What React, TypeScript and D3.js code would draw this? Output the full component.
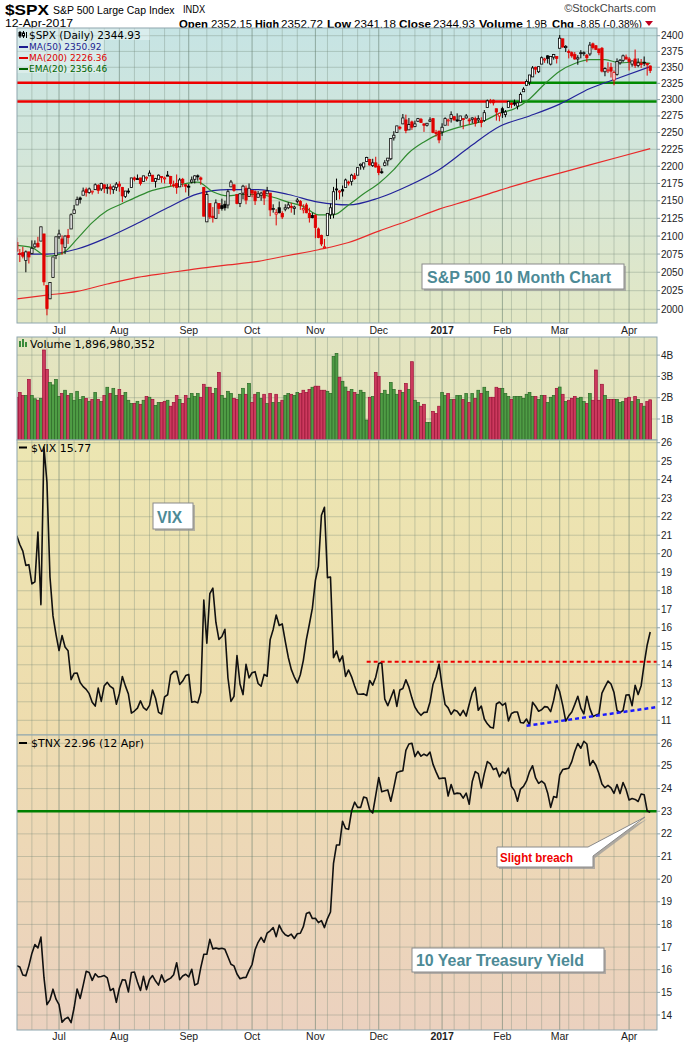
import React from 'react';
import * as d3 from 'd3';

// ---------------- DATA ----------------
const HOLIDAYS = ['2016-07-04', '2016-09-05', '2016-11-24', '2016-12-26', '2017-01-02', '2017-01-16', '2017-02-20'];
const START = '2016-06-13';
const END = '2017-04-12';
const monthLabels = ['Jul', 'Aug', 'Sep', 'Oct', 'Nov', 'Dec', '2017', 'Feb', 'Mar', 'Apr'];

// S&P 500 daily [open, high, low, close]
const ohlc: number[][] = [
  // Jun 2016
  [2091, 2098, 2078, 2079], [2076, 2082, 2064, 2075], [2077, 2085, 2069, 2072], [2066, 2080, 2050, 2078], [2078, 2078, 2062, 2071],
  [2076, 2094, 2075, 2083], [2085, 2094, 2083, 2089], [2090, 2099, 2084, 2085], [2093, 2113, 2093, 2113], [2103, 2103, 2032, 2037],
  [2032, 2032, 1992, 2001], [2014, 2036, 2014, 2036], [2043, 2071, 2043, 2071], [2073, 2099, 2068, 2099],
  // Jul
  [2099, 2109, 2096, 2103], [2096, 2101, 2074, 2089], [2084, 2101, 2075, 2100], [2101, 2110, 2089, 2098], [2110, 2132, 2110, 2130],
  [2132, 2144, 2132, 2137], [2144, 2156, 2144, 2152], [2154, 2156, 2146, 2152], [2158, 2169, 2158, 2164], [2166, 2169, 2156, 2162],
  [2162, 2169, 2160, 2167], [2163, 2164, 2159, 2164], [2166, 2175, 2166, 2173], [2172, 2174, 2160, 2165], [2167, 2176, 2164, 2175],
  [2173, 2173, 2161, 2168], [2168, 2174, 2160, 2169], [2170, 2174, 2159, 2167], [2166, 2172, 2160, 2170], [2169, 2177, 2164, 2174],
  // Aug
  [2174, 2178, 2163, 2171], [2169, 2170, 2148, 2157], [2156, 2164, 2154, 2164], [2164, 2168, 2160, 2164], [2169, 2183, 2169, 2183],
  [2183, 2185, 2178, 2181], [2182, 2188, 2181, 2182], [2183, 2183, 2172, 2175], [2178, 2186, 2178, 2186], [2183, 2185, 2179, 2184],
  [2186, 2194, 2186, 2190], [2187, 2187, 2178, 2178], [2178, 2183, 2169, 2182], [2181, 2188, 2181, 2187], [2185, 2185, 2176, 2184],
  [2182, 2185, 2175, 2183], [2187, 2193, 2186, 2187], [2185, 2186, 2171, 2175], [2173, 2179, 2169, 2172], [2175, 2188, 2160, 2169],
  [2170, 2183, 2170, 2180], [2181, 2183, 2170, 2176], [2173, 2174, 2162, 2171],
  // Sep
  [2171, 2174, 2157, 2171], [2177, 2185, 2175, 2180], [2181, 2187, 2175, 2186], [2186, 2188, 2179, 2186], [2183, 2185, 2173, 2181],
  [2169, 2170, 2128, 2128], [2120, 2163, 2120, 2159], [2146, 2146, 2124, 2127], [2128, 2141, 2119, 2126], [2125, 2152, 2124, 2147],
  [2146, 2146, 2131, 2139], [2143, 2153, 2136, 2139], [2145, 2150, 2136, 2140], [2144, 2166, 2139, 2163], [2170, 2180, 2170, 2177],
  [2173, 2173, 2163, 2165], [2159, 2159, 2145, 2146], [2146, 2161, 2141, 2160], [2161, 2173, 2152, 2171], [2168, 2172, 2145, 2151],
  [2156, 2175, 2156, 2168],
  // Oct
  [2165, 2165, 2155, 2161], [2163, 2165, 2144, 2150], [2155, 2164, 2155, 2160], [2158, 2163, 2150, 2161], [2164, 2165, 2144, 2154],
  [2160, 2170, 2160, 2164], [2161, 2161, 2128, 2137], [2138, 2145, 2133, 2139], [2131, 2138, 2115, 2133], [2140, 2149, 2132, 2133],
  [2132, 2135, 2124, 2127], [2138, 2145, 2135, 2140], [2140, 2148, 2138, 2144], [2142, 2147, 2133, 2141], [2139, 2143, 2130, 2141],
  [2149, 2154, 2146, 2151], [2149, 2151, 2137, 2143], [2137, 2145, 2132, 2139], [2144, 2147, 2132, 2133], [2132, 2140, 2119, 2126],
  [2129, 2133, 2125, 2126],
  // Nov
  [2129, 2131, 2097, 2112], [2110, 2112, 2097, 2098], [2101, 2102, 2086, 2089], [2084, 2096, 2083, 2085], [2101, 2132, 2101, 2132],
  [2130, 2146, 2124, 2140], [2131, 2170, 2125, 2163], [2167, 2182, 2151, 2167], [2163, 2165, 2152, 2164], [2166, 2172, 2156, 2164],
  [2169, 2182, 2169, 2180], [2177, 2179, 2172, 2177], [2178, 2189, 2172, 2187], [2186, 2190, 2180, 2182], [2187, 2198, 2187, 2198],
  [2201, 2204, 2195, 2203], [2199, 2205, 2195, 2205], [2207, 2214, 2207, 2213], [2210, 2211, 2201, 2202], [2201, 2211, 2199, 2205],
  [2205, 2214, 2198, 2199],
  // Dec
  [2200, 2203, 2187, 2191], [2192, 2197, 2189, 2192], [2201, 2209, 2200, 2205], [2208, 2212, 2201, 2212], [2211, 2241, 2209, 2241],
  [2242, 2252, 2238, 2246], [2250, 2260, 2250, 2260], [2258, 2260, 2254, 2257], [2263, 2278, 2263, 2272], [2269, 2277, 2249, 2253],
  [2254, 2272, 2254, 2262], [2266, 2268, 2254, 2258], [2259, 2268, 2258, 2263], [2267, 2272, 2266, 2271], [2270, 2272, 2265, 2265],
  [2263, 2264, 2251, 2261], [2261, 2264, 2259, 2264], [2267, 2273, 2266, 2269], [2271, 2272, 2249, 2250], [2250, 2254, 2244, 2249],
  [2252, 2253, 2234, 2239],
  // Jan 2017
  [2251, 2264, 2245, 2258], [2261, 2273, 2261, 2271], [2268, 2271, 2260, 2269], [2271, 2282, 2265, 2277], [2274, 2275, 2268, 2269],
  [2269, 2279, 2266, 2269], [2268, 2275, 2260, 2275], [2271, 2271, 2255, 2270], [2272, 2278, 2271, 2275], [2269, 2272, 2262, 2268],
  [2270, 2273, 2264, 2272], [2271, 2274, 2259, 2264], [2269, 2276, 2265, 2271], [2268, 2273, 2258, 2265], [2268, 2284, 2266, 2280],
  [2288, 2300, 2288, 2298], [2298, 2301, 2294, 2297], [2299, 2300, 2291, 2295], [2286, 2286, 2268, 2281], [2275, 2280, 2267, 2279],
  // Feb
  [2286, 2289, 2272, 2280], [2277, 2284, 2273, 2281], [2288, 2298, 2288, 2297], [2294, 2296, 2287, 2293], [2295, 2300, 2290, 2293],
  [2290, 2296, 2285, 2295], [2296, 2311, 2296, 2308], [2312, 2319, 2312, 2316], [2322, 2331, 2321, 2328], [2327, 2338, 2322, 2338],
  [2335, 2352, 2335, 2349], [2350, 2351, 2339, 2347], [2343, 2351, 2341, 2351], [2355, 2367, 2355, 2365], [2362, 2365, 2357, 2363],
  [2368, 2369, 2356, 2364], [2355, 2367, 2353, 2367], [2366, 2371, 2362, 2370], [2367, 2367, 2356, 2364],
  // Mar
  [2380, 2401, 2380, 2396], [2395, 2395, 2381, 2382], [2381, 2385, 2374, 2383], [2375, 2378, 2364, 2375], [2373, 2375, 2365, 2368],
  [2370, 2374, 2362, 2363], [2363, 2369, 2354, 2365], [2372, 2377, 2364, 2373], [2372, 2375, 2368, 2373], [2369, 2371, 2358, 2365],
  [2371, 2390, 2368, 2385], [2387, 2389, 2378, 2381], [2384, 2385, 2377, 2378], [2379, 2379, 2369, 2373], [2380, 2382, 2342, 2344],
  [2343, 2350, 2336, 2348], [2345, 2358, 2341, 2346], [2350, 2357, 2334, 2344], [2330, 2345, 2322, 2342], [2339, 2364, 2337, 2359],
  [2357, 2363, 2354, 2361], [2361, 2370, 2358, 2368], [2366, 2370, 2362, 2363],
  // Apr
  [2363, 2366, 2345, 2359], [2355, 2360, 2351, 2360], [2363, 2378, 2349, 2353], [2353, 2364, 2350, 2357], [2356, 2363, 2349, 2356],
  [2358, 2367, 2352, 2357], [2356, 2356, 2337, 2354], [2352, 2353, 2341, 2345],
];
const prevClose = 2096;

// moving averages [bar index, value]
const ma50: number[][] = [
  [0, 2075], [10, 2075], [20, 2082], [30, 2098], [40, 2118], [50, 2140], [60, 2160], [70, 2166], [80, 2166], [90, 2159],
  [100, 2148], [110, 2144], [120, 2154], [130, 2172], [140, 2195], [150, 2228], [160, 2259], [170, 2275], [180, 2293],
  [190, 2317], [200, 2334], [210, 2351],
];
const ma200: number[][] = [
  [0, 2014], [10, 2019], [20, 2024], [30, 2034], [40, 2043], [50, 2049], [60, 2055], [70, 2060], [80, 2065], [90, 2073],
  [100, 2081], [110, 2091], [120, 2107], [130, 2122], [140, 2138], [150, 2151], [160, 2165], [170, 2178], [180, 2190],
  [190, 2202], [200, 2214], [210, 2226],
];
const ema20: number[][] = [
  [0, 2087], [5, 2084], [10, 2072], [15, 2076], [20, 2096], [25, 2119], [30, 2136], [35, 2146], [40, 2156], [45, 2165],
  [50, 2170], [55, 2174], [60, 2177], [65, 2163], [70, 2157], [75, 2159], [80, 2159], [85, 2155], [90, 2148], [95, 2142],
  [100, 2130], [105, 2130], [110, 2144], [115, 2160], [120, 2175], [125, 2195], [130, 2220], [135, 2236], [140, 2248],
  [145, 2256], [150, 2262], [155, 2268], [160, 2279], [165, 2286], [170, 2301], [175, 2324], [180, 2344], [185, 2356],
  [190, 2362], [195, 2362], [200, 2357], [205, 2358], [210, 2356],
];

// price levels (value, bar index where the line turns from red to green)
const levels: number[][] = [[2326, 169], [2297, 163]];

// volume (billions)
const volume: number[] = [
  2.02, 2.25, 2.11, 2.11, 2.86, 2.11, 1.95, 1.88, 1.97, 4.24,
  3.33, 2.72, 2.60, 2.86, 2.06, 2.20, 2.35, 2.11, 2.20, 1.88,
  2.30, 1.92, 2.06, 1.97, 1.83, 1.92, 2.25, 1.92, 1.83, 2.11,
  2.49, 2.20, 2.44, 2.11, 2.39, 2.11, 2.25, 1.88, 1.73, 1.73,
  1.83, 1.69, 1.88, 2.06, 2.02, 1.92, 1.64, 1.78, 1.78, 1.83,
  1.88, 1.60, 1.78, 2.11, 1.92, 1.73, 2.11, 1.97, 2.20, 2.06,
  2.20, 2.02, 2.63, 2.49, 2.49, 2.20, 2.44, 3.19, 2.11, 1.97,
  2.30, 2.20, 1.97, 1.92, 2.16, 2.44, 2.16, 2.67, 1.78, 2.16,
  2.25, 1.97, 2.16, 1.73, 2.20, 1.78, 2.16, 1.78, 1.88, 2.11,
  2.20, 2.16, 2.11, 2.25, 2.20, 2.35, 2.25, 2.39, 2.49, 2.54,
  2.54, 2.35, 2.35, 2.30, 2.20, 3.94, 4.08, 2.96, 2.77, 2.50,
  2.30, 2.39, 2.25, 2.16, 2.35, 2.25, 0.95, 2.02, 2.06, 3.19,
  2.99, 2.20, 2.35, 2.16, 2.72, 2.39, 2.16, 2.35, 2.25, 2.67,
  2.39, 3.69, 1.88, 1.78, 1.60, 1.69, 0.84, 0.84, 1.36, 1.26,
  1.60, 2.25, 2.11, 2.20, 1.92, 1.92, 2.11, 2.11, 1.92, 2.20,
  1.78, 2.20, 1.97, 2.35, 2.20, 2.49, 2.30, 2.02, 2.02, 2.49,
  2.44, 2.44, 2.20, 2.06, 1.92, 2.06, 2.06, 2.06, 1.97, 2.16,
  2.25, 2.06, 2.06, 1.92, 2.11, 2.11, 1.78, 2.02, 2.11, 2.44,
  2.50, 2.16, 1.82, 1.88, 1.97, 2.06, 1.97, 2.02, 1.82, 1.73,
  2.20, 1.88, 3.30, 1.88, 2.63, 2.11, 1.92, 1.92, 1.92, 1.92,
  1.78, 1.82, 1.97, 2.02, 1.82, 2.06, 1.92, 1.73, 1.60, 1.82,
  1.90,
];

const vix: number[] = [
  20.97, 20.50, 20.14, 19.37, 19.41, 18.37, 18.48, 21.17, 17.25, 25.76, 23.85, 18.75, 16.64, 15.63,
  14.77, 15.58, 14.96, 14.76, 13.20, 13.54, 13.55, 13.04, 12.82, 12.67, 12.44, 11.97, 11.77, 12.74, 12.02, 12.87, 13.05, 12.83, 12.72, 11.87,
  12.44, 13.37, 12.86, 12.42, 11.39, 11.50, 11.66, 12.05, 11.68, 11.55, 11.81, 12.64, 12.19, 11.43, 11.34, 12.27, 12.38, 13.45, 13.63, 13.65, 12.94, 13.12, 13.42,
  13.48, 11.98, 12.02, 11.94, 12.51, 17.50, 15.16, 17.85, 18.14, 16.30, 15.37, 15.53, 15.92, 13.30, 12.02, 12.29, 14.50, 12.96, 12.39, 14.02, 13.29,
  13.57, 13.63, 12.99, 12.84, 13.48, 13.38, 15.36, 15.91, 16.69, 16.12, 16.21, 15.28, 14.41, 13.75, 13.34, 13.02, 13.46, 14.24, 15.36, 16.19, 17.06,
  18.56, 19.32, 22.08, 22.51, 18.71, 18.74, 14.38, 14.74, 14.17, 14.48, 13.37, 13.72, 13.35, 12.85, 12.42, 12.41, 12.43, 12.34, 13.15, 12.90, 13.33,
  14.07, 14.12, 12.14, 11.79, 12.22, 12.64, 11.75, 12.64, 12.72, 13.19, 12.79, 12.20, 11.71, 11.45, 11.27, 11.43, 11.44, 11.99, 12.95, 13.37, 14.04,
  12.85, 11.85, 11.67, 11.32, 11.56, 11.49, 11.26, 11.54, 11.23, 11.87, 12.48, 12.78, 11.54, 11.77, 11.07, 10.81, 10.63, 10.58, 11.88, 11.99,
  11.81, 11.93, 10.97, 11.37, 11.45, 11.45, 10.88, 10.85, 11.07, 10.74, 11.97, 11.76, 11.49, 11.57, 11.74, 11.71, 11.47, 12.09, 12.92,
  12.54, 11.81, 10.96, 11.24, 11.45, 11.86, 12.30, 11.66, 11.35, 12.30, 11.63, 11.21, 11.28, 11.34, 12.47, 12.81, 13.12, 12.96, 12.50, 11.53, 11.42, 11.54, 12.37,
  12.38, 11.79, 12.89, 12.39, 12.87, 14.05, 15.07, 15.77,
];
// VIX trend lines [bar index, value]
const vixResistance: number[][] = [[116, 14.17], [212.5, 14.17]];
const vixSupport: number[][] = [[169, 10.7], [212.5, 11.72]];

const tnx: number[] = [
  16.17, 16.12, 15.77, 15.73, 16.17, 16.72, 17.11, 16.96, 17.44, 15.67, 14.46, 14.67, 15.14, 14.70,
  14.46, 13.68, 13.83, 13.90, 13.66, 14.32, 15.15, 14.73, 15.31, 15.93, 15.88, 15.53, 15.82, 15.68, 15.70, 15.74, 15.64, 15.08, 15.17, 14.56,
  15.18, 15.56, 15.54, 15.02, 15.88, 15.90, 15.46, 15.08, 15.71, 15.12, 15.57, 15.74, 15.50, 15.32, 15.77, 15.45, 15.56, 15.63, 15.78, 16.31, 15.56, 15.72, 15.80,
  15.68, 16.02, 15.32, 15.39, 16.09, 16.68, 16.68, 17.34, 16.92, 16.96, 16.92, 16.95, 16.90, 16.57, 16.24, 16.17, 15.81, 15.60, 15.65, 15.66, 15.97,
  16.23, 16.88, 17.21, 17.43, 17.21, 17.62, 17.72, 17.86, 17.46, 17.97, 17.70, 17.54, 17.48, 17.57, 17.38, 17.59, 17.61, 17.90, 18.48, 18.54, 18.26,
  18.27, 18.08, 18.17, 17.86, 18.26, 18.55, 20.70, 21.51, 21.51, 22.56, 22.24, 22.20, 23.01, 23.40, 23.17, 23.17, 23.63, 23.58, 23.06, 22.92, 23.70,
  24.49, 23.86, 23.90, 23.94, 23.44, 24.04, 24.70, 24.76, 24.79, 25.69, 25.97, 26.00, 25.41, 25.64, 25.43, 25.52, 25.45, 25.61, 25.07, 24.74, 24.44,
  24.46, 24.47, 23.67, 24.18, 23.76, 23.80, 23.78, 23.58, 23.80, 23.31, 24.31, 24.75, 24.66, 24.03, 24.66, 25.19, 25.09, 24.84, 24.90, 24.52,
  24.75, 24.66, 24.90, 24.09, 23.91, 23.44, 23.98, 24.10, 24.34, 24.75, 25.01, 24.47, 24.23, 24.33, 24.22, 23.81, 23.17, 23.65, 23.61,
  24.60, 24.84, 24.87, 24.90, 25.19, 25.65, 25.99, 25.78, 26.09, 25.97, 25.02, 25.24, 25.03, 24.67, 24.20, 24.04, 24.14, 24.03, 23.79, 24.18, 23.78, 24.27, 23.96,
  23.50, 23.56, 23.52, 23.43, 23.76, 23.73, 23.01, 22.96,
];
const tnxSupport = 23;

const spxTicks = d3.range(2000, 2401, 25);
const volTicks = [1, 2, 3, 4];
const vixTicks = d3.range(11, 27);
const tnxTicks = d3.range(14, 27);

// ---------------- LAYOUT ----------------
const L = 17, R = 657;
const P1 = { top: 28, bottom: 323 };
const PV = { top: 337, bottom: 440 };
const PX = { top: 440, bottom: 735 };
const PT = { top: 735, bottom: 1030 };

const SANS = "'Liberation Sans', Arial, sans-serif";
const NARROW = "'Liberation Sans Narrow', 'Liberation Sans', Arial, sans-serif";
const VER = "'DejaVu Sans', Verdana, sans-serif";

function buildDates(): Date[] {
  const out: Date[] = [];
  const hol = new Set(HOLIDAYS);
  const s = Date.parse(START + 'T00:00:00Z');
  const e = Date.parse(END + 'T00:00:00Z');
  for (let t = s; t <= e; t += 86400000) {
    const d = new Date(t);
    const dow = d.getUTCDay();
    if (dow === 0 || dow === 6) continue;
    if (hol.has(d.toISOString().slice(0, 10))) continue;
    out.push(d);
  }
  return out;
}

export default function App() {
  const dates = buildDates();
  const x = d3.scaleLinear().domain([0, 210]).range([16.8, 650.2]);
  const yS = d3.scaleLog().domain([2400, 2000]).range([35.7, 309.3]);
  const yV = d3.scaleLinear().domain([0, 4]).range([440.3, 355.1]);
  const yX = d3.scaleLinear().domain([26, 11]).range([442.7, 720.3]);
  const yT = d3.scaleLinear().domain([26, 14]).range([743.3, 1015]);

  // month / week grid indices
  const monthIdx: number[] = [];
  const weekIdx: number[] = [];
  const DAY = 86400000;
  for (let i = 1; i < dates.length; i++) {
    if (dates[i].getUTCMonth() !== dates[i - 1].getUTCMonth()) monthIdx.push(i);
  }
  const wk = (d: Date) => Math.floor((d.getTime() / DAY + 3) / 7);
  for (let i = 1; i < dates.length; i++) {
    if (wk(dates[i]) !== wk(dates[i - 1])) {
      if (monthIdx.some((m) => Math.abs(m - i) <= 2)) continue;
      weekIdx.push(i);
    }
  }

  const closes = ohlc.map((r) => r[3]);
  const up = closes.map((c, i) => c >= (i === 0 ? prevClose : closes[i - 1]));

  const minorC = 'rgba(110,130,115,0.33)';
  const majorC = 'rgba(95,120,105,0.55)';

  const vGrid = (top: number, bottom: number, key: string) => (
    <g key={key}>
      {weekIdx.map((i) => (
        <line key={'w' + i} x1={x(i)} x2={x(i)} y1={top} y2={bottom} stroke={minorC} strokeWidth={1} />
      ))}
      {monthIdx.map((i) => (
        <line key={'m' + i} x1={x(i)} x2={x(i)} y1={top} y2={bottom} stroke={majorC} strokeWidth={1} />
      ))}
    </g>
  );
  const hGrid = (ticks: number[], y: (v: number) => number, key: string) => (
    <g key={key}>
      {ticks.map((t) => (
        <line key={t} x1={L} x2={R} y1={y(t)} y2={y(t)} stroke={minorC} strokeWidth={1} />
      ))}
    </g>
  );
  const rAxis = (ticks: number[], y: (v: number) => number, fmt: (v: number) => string, key: string) => (
    <g key={key} fontFamily={SANS} fontSize={10} fill="#222">
      {ticks.map((t) => (
        <g key={t}>
          <line x1={R} x2={R + 3} y1={y(t)} y2={y(t)} stroke="#8aa0a8" />
          <text x={R + 4} y={y(t)} dy="0.35em">{fmt(t)}</text>
        </g>
      ))}
    </g>
  );

  const lineGen = (y: (v: number) => number) =>
    d3.line<number>().x((_, i) => x(i)).y((v) => y(v));
  const ptsLine = (y: (v: number) => number) =>
    d3.line<number[]>().x((p) => x(p[0])).y((p) => y(p[1])).curve(d3.curveMonotoneX);

  const border = '#8ea6ae';
  const bodyW = 2.3;

  const box = (x0: number, y0: number, w: number, h: number) => (
    <g>
      <rect x={x0 + 2} y={y0 + 2} width={w} height={h} fill="#9a9a9a" opacity={0.7} />
      <rect x={x0} y={y0} width={w} height={h} fill="#fff" stroke="#8a8a8a" strokeWidth={1} />
    </g>
  );

  const teal = '#4d8a96';

  return (
    <svg width={700} height={1045} style={{ position: 'absolute', left: 0, top: 0, background: '#fff' }}>
      <defs>
        <linearGradient id="g1" x1="0" y1="0" x2="0" y2="1">
          <stop offset="0" stopColor="#c6e4e4" />
          <stop offset="0.5" stopColor="#d5e6d8" />
          <stop offset="1" stopColor="#e2e7c4" />
        </linearGradient>
        <linearGradient id="gv" x1="0" y1="0" x2="0" y2="1">
          <stop offset="0" stopColor="#e2e4c2" />
          <stop offset="1" stopColor="#e7e5b8" />
        </linearGradient>
        <linearGradient id="gx" x1="0" y1="0" x2="0" y2="1">
          <stop offset="0" stopColor="#ece6b2" />
          <stop offset="1" stopColor="#eedcae" />
        </linearGradient>
        <linearGradient id="gt" x1="0" y1="0" x2="0" y2="1">
          <stop offset="0" stopColor="#eedcb1" />
          <stop offset="1" stopColor="#ebd1bf" />
        </linearGradient>
        <clipPath id="c1"><rect x={L} y={P1.top} width={R - L} height={P1.bottom - P1.top} /></clipPath>
        <clipPath id="cv"><rect x={L} y={PV.top} width={R - L} height={PV.bottom - PV.top} /></clipPath>
        <clipPath id="cx"><rect x={L} y={PX.top} width={R - L} height={PX.bottom - PX.top} /></clipPath>
        <clipPath id="ct"><rect x={L} y={PT.top} width={R - L} height={PT.bottom - PT.top} /></clipPath>
      </defs>

      {/* ---------- header ---------- */}
      <text x={5} y={15} fontFamily={SANS} fontWeight="bold" fontSize={15} textLength={44} lengthAdjust="spacingAndGlyphs">$SPX</text>
      <g transform="translate(53,13.5) scale(0.85,1)">
        <text x={0} y={0} fontFamily={SANS} fontSize={11.5} textLength={143} lengthAdjust="spacingAndGlyphs">S&amp;P 500 Large Cap Index</text>
      </g>
      <g transform="translate(183,12.5) scale(0.85,1)">
        <text x={0} y={0} fontFamily={SANS} fontSize={10} textLength={26} lengthAdjust="spacingAndGlyphs">INDX</text>
      </g>
      <text x={656} y={12} fontFamily={NARROW} fontSize={11} fill="#444" textAnchor="end">©StockCharts.com</text>
      <text x={5} y={27} fontFamily={NARROW} fontSize={11} textLength={68} lengthAdjust="spacingAndGlyphs">12-Apr-2017</text>
      <g fontFamily={NARROW} fontSize={11}>
        <text x={179} y={27.5} fontWeight="bold" textLength={29} lengthAdjust="spacingAndGlyphs">Open</text>
        <text x={211} y={27.5} textLength={41} lengthAdjust="spacingAndGlyphs">2352.15</text>
        <text x={255} y={27.5} fontWeight="bold" textLength={24} lengthAdjust="spacingAndGlyphs">High</text>
        <text x={281} y={27.5} textLength={42} lengthAdjust="spacingAndGlyphs">2352.72</text>
        <text x={327} y={27.5} fontWeight="bold" textLength={24} lengthAdjust="spacingAndGlyphs">Low</text>
        <text x={354} y={27.5} textLength={42} lengthAdjust="spacingAndGlyphs">2341.18</text>
        <text x={399} y={27.5} fontWeight="bold" textLength={32} lengthAdjust="spacingAndGlyphs">Close</text>
        <text x={433} y={27.5} textLength={42} lengthAdjust="spacingAndGlyphs">2344.93</text>
        <text x={479} y={27.5} fontWeight="bold" textLength={44} lengthAdjust="spacingAndGlyphs">Volume</text>
        <text x={526} y={27.5} fontSize={10} textLength={21} lengthAdjust="spacingAndGlyphs">1.9B</text>
        <text x={552} y={27.5} fontWeight="bold" textLength={22} lengthAdjust="spacingAndGlyphs">Chg</text>
        <text x={577} y={27.5} textLength={65} lengthAdjust="spacingAndGlyphs">-8.85 (-0.38%)</text>
      </g>
      <path d="M645,21 L653,21 L649,26 Z" fill="#c00020" />

      {/* ---------- panel 1 : SPX ---------- */}
      <rect x={L} y={P1.top} width={R - L} height={P1.bottom - P1.top} fill="url(#g1)" />
      <g clipPath="url(#c1)">
        {hGrid(spxTicks, yS, 'h1')}
        {vGrid(P1.top, P1.bottom, 'v1')}
        <rect x={L} y={P1.top} width={133} height={12} fill="rgba(255,255,255,0.35)" />
        <rect x={L} y={P1.top + 12} width={87} height={33} fill="rgba(255,255,255,0.3)" />
        {levels.map(([lv, iSwitch]) => (
          <g key={lv}>
            <line x1={L} x2={x(iSwitch)} y1={yS(lv)} y2={yS(lv)} stroke="#ee0000" strokeWidth={2.5} />
            <line x1={x(iSwitch)} x2={R} y1={yS(lv)} y2={yS(lv)} stroke="#008a00" strokeWidth={2.5} />
          </g>
        ))}
        <path d={ptsLine(yS)(ma200) || ''} fill="none" stroke="#e82a2a" strokeWidth={1.2} />
        <path d={ptsLine(yS)(ma50) || ''} fill="none" stroke="#23239a" strokeWidth={1.2} />
        <path d={ptsLine(yS)(ema20) || ''} fill="none" stroke="#2f8a2f" strokeWidth={1.2} />
        {ohlc.map(([o, h, l, c], i) => {
          const col = up[i] ? '#000' : '#e00000';
          const hollow = c > o;
          const yt = yS(Math.max(o, c));
          const yb = yS(Math.min(o, c));
          const bh = Math.max(1, yb - yt);
          return (
            <g key={i}>
              <line x1={x(i)} x2={x(i)} y1={yS(h)} y2={yS(l)} stroke={col} strokeWidth={1} />
              <rect x={x(i) - bodyW / 2} y={yt} width={bodyW} height={bh} fill={hollow ? '#fff' : col} stroke={col} strokeWidth={0.8} />
            </g>
          );
        })}
      </g>
      <g fontFamily={VER}>
        <g stroke="#000" strokeWidth={1}>
          <line x1={20} x2={20} y1={31} y2={38} />
          <rect x={19} y={32.5} width={2} height={3.5} fill="#000" />
          <line x1={23.5} x2={23.5} y1={31} y2={38} />
          <rect x={22.5} y={33} width={2} height={3} fill="#fff" />
          <line x1={26.5} x2={26.5} y1={32} y2={38} />
        </g>
        <text x={29} y={39} fontSize={10.5} fill="#000">$SPX (Daily) 2344.93</text>
        <line x1={19} x2={28} y1={47} y2={47} stroke="#1d1d90" strokeWidth={2} />
        <text x={29} y={50} fontSize={9} fill="#1d1d90">MA(50) 2350.92</text>
        <line x1={19} x2={28} y1={58} y2={58} stroke="#e00000" strokeWidth={2} />
        <text x={29} y={61} fontSize={9} fill="#e00000">MA(200) 2226.36</text>
        <line x1={19} x2={28} y1={69} y2={69} stroke="#006400" strokeWidth={2} />
        <text x={29} y={72} fontSize={9} fill="#006400">EMA(20) 2356.46</text>
      </g>
      {box(422, 264, 202, 25)}
      <text x={427} y={282.5} fontFamily={SANS} fontWeight="bold" fontSize={16} fill={teal} textLength={184} lengthAdjust="spacingAndGlyphs">S&amp;P 500 10 Month Chart</text>
      <rect x={L} y={P1.top} width={R - L} height={P1.bottom - P1.top} fill="none" stroke={border} />
      {rAxis(spxTicks, yS, (v) => String(v), 'a1')}

      <g fontFamily={SANS} fontSize={10.5} fill="#222" textAnchor="middle">
        {monthIdx.map((i, k) => (
          <text key={i} x={x(i)} y={334} fontWeight={monthLabels[k] === '2017' ? 'bold' : 'normal'}>{monthLabels[k]}</text>
        ))}
      </g>

      {/* ---------- volume ---------- */}
      <rect x={L} y={PV.top} width={R - L} height={PV.bottom - PV.top} fill="url(#gv)" />
      <g clipPath="url(#cv)">
        {hGrid(volTicks, yV, 'hv')}
        {vGrid(PV.top, PV.bottom, 'vv')}
        {volume.map((v, i) => (
          <rect key={i} x={x(i) - 1.4} y={yV(v)} width={2.8} height={yV(0) - yV(v)}
            fill={up[i] ? '#4f9d45' : '#cc3a5e'} stroke={up[i] ? '#2b6a27' : '#9c1238'} strokeWidth={0.7} />
        ))}
      </g>
      <g>
        <rect x={19} y={341} width={2} height={6} fill="#3a8a3a" />
        <rect x={22} y={339} width={2} height={8} fill="#3a8a3a" />
        <rect x={25} y={342} width={2} height={5} fill="#3a8a3a" />
        <text x={30} y={348} fontFamily={VER} fontSize={11} fill="#000">Volume 1,896,980,352</text>
      </g>
      <rect x={L} y={PV.top} width={R - L} height={PV.bottom - PV.top} fill="none" stroke={border} />
      {rAxis(volTicks, yV, (v) => v + 'B', 'av')}

      {/* ---------- VIX ---------- */}
      <rect x={L} y={PX.top} width={R - L} height={PX.bottom - PX.top} fill="url(#gx)" />
      <g clipPath="url(#cx)">
        {hGrid(vixTicks, yX, 'hx')}
        {vGrid(PX.top, PX.bottom, 'vx')}
        <path d={lineGen(yX)(vix) || ''} fill="none" stroke="#111" strokeWidth={1.6} strokeLinejoin="round" />
        <line x1={x(vixResistance[0][0])} x2={x(vixResistance[1][0])} y1={yX(vixResistance[0][1])} y2={yX(vixResistance[1][1])}
          stroke="#ee0000" strokeWidth={2} strokeDasharray="4,3" />
        <line x1={x(vixSupport[0][0])} x2={x(vixSupport[1][0])} y1={yX(vixSupport[0][1])} y2={yX(vixSupport[1][1])}
          stroke="#1a1aff" strokeWidth={2.5} strokeDasharray="4,3" />
      </g>
      <line x1={19} x2={27} y1={447.5} y2={447.5} stroke="#000" strokeWidth={2} />
      <text x={31} y={451.5} fontFamily={VER} fontSize={11} fill="#000">$VIX 15.77</text>
      {box(153, 503, 40, 26)}
      <text x={157} y={522.5} fontFamily={SANS} fontWeight="bold" fontSize={16} fill={teal} textLength={25} lengthAdjust="spacingAndGlyphs">VIX</text>
      <rect x={L} y={PX.top} width={R - L} height={PX.bottom - PX.top} fill="none" stroke={border} />
      {rAxis(vixTicks, yX, (v) => String(v), 'ax')}

      {/* ---------- TNX ---------- */}
      <rect x={L} y={PT.top} width={R - L} height={PT.bottom - PT.top} fill="url(#gt)" />
      <g clipPath="url(#ct)">
        {hGrid(tnxTicks, yT, 'ht')}
        {vGrid(PT.top, PT.bottom, 'vt')}
        <line x1={L} x2={R} y1={yT(tnxSupport)} y2={yT(tnxSupport)} stroke="#008000" strokeWidth={2.5} />
        <path d={lineGen(yT)(tnx) || ''} fill="none" stroke="#111" strokeWidth={1.6} strokeLinejoin="round" />
      </g>
      <line x1={19} x2={27} y1={743} y2={743} stroke="#000" strokeWidth={2} />
      <text x={31} y={747} fontFamily={VER} fontSize={11} fill="#000">$TNX 22.96 (12 Apr)</text>
      <path d="M499,849 L590,849 L647,819 L595,858 L595,869 L499,869 Z" fill="#999" opacity={0.75} />
      <path d="M497,847 L588,847 L645,817 L593,856 L593,867 L497,867 Z" fill="#fff" stroke="#8a8a8a" strokeWidth={1} />
      <text x={500} y={861.5} fontFamily={SANS} fontWeight="bold" fontSize={13} fill="#ee0000" textLength={73} lengthAdjust="spacingAndGlyphs">Slight breach</text>
      {box(412, 948, 192, 24)}
      <text x={416} y={966} fontFamily={SANS} fontWeight="bold" fontSize={16} fill={teal} textLength={168} lengthAdjust="spacingAndGlyphs">10 Year Treasury Yield</text>
      <rect x={L} y={PT.top} width={R - L} height={PT.bottom - PT.top} fill="none" stroke={border} />
      {rAxis(tnxTicks, yT, (v) => String(v), 'at')}

      <g fontFamily={SANS} fontSize={10.5} fill="#222" textAnchor="middle">
        {monthIdx.map((i, k) => (
          <text key={i} x={x(i)} y={1040} fontWeight={monthLabels[k] === '2017' ? 'bold' : 'normal'}>{monthLabels[k]}</text>
        ))}
      </g>
    </svg>
  );
}
